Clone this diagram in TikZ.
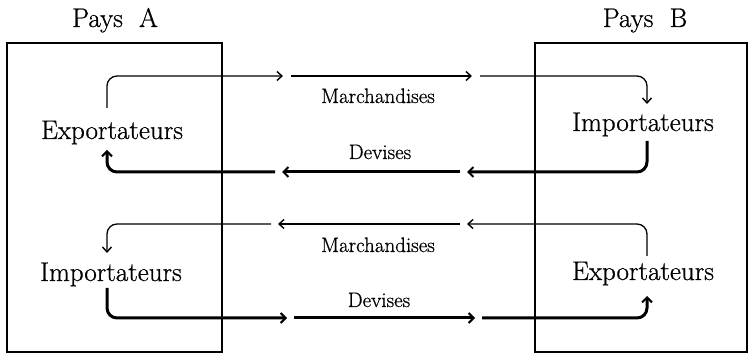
\documentclass[tikz,border=0pt]{standalone}
\usepackage{fontspec}
\newfontfamily\printfont{Latin Modern Roman}[FakeBold=0.7]
\usetikzlibrary{arrows.meta}
\begin{document}
\begin{tikzpicture}[x=1pt,y=-1pt,
  big/.style={font=\printfont\fontsize{27}{30}\selectfont, inner sep=0pt, anchor=base},
  small/.style={font=\printfont\fontsize{21}{24}\selectfont, inner sep=0pt, anchor=base},
  country/.style={draw, line width=1.1pt},
  goods/.style={line width=1.3pt, rounded corners=10pt,
    -{Straight Barb[length=5pt,width=9pt,line width=1.4pt]}},
  money/.style={line width=3pt, rounded corners=10pt,
    -{Straight Barb[length=5pt,width=10pt,line width=2pt]}}]
\useasboundingbox (0,0) rectangle (750,355);

% the two countries
\draw[country] (7,43) rectangle (222,352);
\draw[country] (535,43) rectangle (747,352);
\node[big] (payA) at (115,27) {Pays\hspace{0.6em}A};
\node[big] (payB) at (645,27) {Pays\hspace{0.6em}B};

% traders
\node[big] (exA) at (112,139) {Exportateurs};
\node[big] (imB) at (643,131) {Importateurs};
\node[big] (imA) at (111,281) {Importateurs};
\node[big] (exB) at (643,280) {Exportateurs};

% flow labels
\node[small] (m1) at (378,103) {Marchandises};
\node[small] (d1) at (380,159) {Devises};
\node[small] (m2) at (378,252) {Marchandises};
\node[small] (d2) at (379,307) {Devises};

% end points of the flows
\coordinate (exAgo) at (107,108);
\coordinate (exAin) at (107,150);
\coordinate (imBin) at (647,104);
\coordinate (imBgo) at (647,141);
\coordinate (exBgo) at (647,256);
\coordinate (exBin) at (647,296);
\coordinate (imAin) at (107,253);
\coordinate (imAgo) at (107,288);

% goods A -> B
\coordinate (t1) at (283,76); \coordinate (t2) at (291,76);
\coordinate (t3) at (472,76); \coordinate (t4) at (480,76);
\draw[goods] (exAgo) |- (t1);
\draw[goods] (t2) -- (t3);
\draw[goods] (t4) -| (imBin);

% money B -> A
\coordinate (u1) at (467,172); \coordinate (u2) at (460,172);
\coordinate (u3) at (282,172); \coordinate (u4) at (275,172);
\draw[money] (imBgo) |- (u1);
\draw[money] (u2) -- (u3);
\draw[money] (u4) -| (exAin);

% goods B -> A
\coordinate (v1) at (467,224); \coordinate (v2) at (460,224);
\coordinate (v3) at (278,224); \coordinate (v4) at (271,224);
\draw[goods] (exBgo) |- (v1);
\draw[goods] (v2) -- (v3);
\draw[goods] (v4) -| (imAin);

% money A -> B
\coordinate (w1) at (287,318); \coordinate (w2) at (294,318);
\coordinate (w3) at (475,318); \coordinate (w4) at (482,318);
\draw[money] (imAgo) |- (w1);
\draw[money] (w2) -- (w3);
\draw[money] (w4) -| (exBin);
\end{tikzpicture}
\end{document}
